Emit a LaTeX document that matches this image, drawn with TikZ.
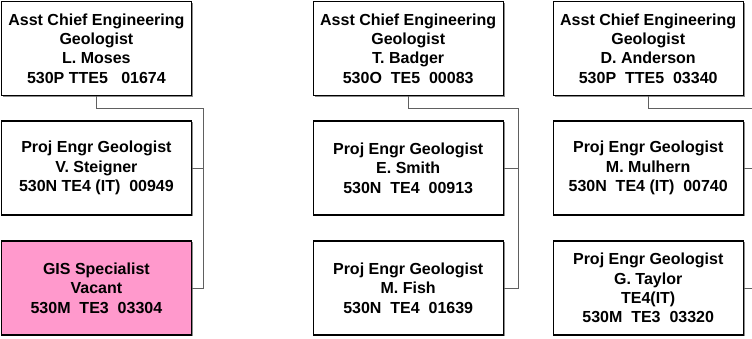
\documentclass[tikz,border=0pt]{standalone}
\usepackage{fontspec}
\setmainfont{Liberation Sans}
\usetikzlibrary{shadows}
\definecolor{pinkfill}{HTML}{FF99CC}
\definecolor{linegray}{HTML}{606060}
\tikzset{
  orgbox/.style={draw=black, line width=1.4pt, fill=white, align=center,
    minimum width=190pt, minimum height=94pt, anchor=north west, inner sep=0pt,
    font=\bfseries\fontsize{16}{19.4}\selectfont,
    drop shadow={shadow xshift=1.4pt, shadow yshift=-1.4pt, fill=black!45, opacity=1}},
  conn/.style={draw=linegray, line width=0.9pt}
}
\begin{document}
\begin{tikzpicture}[x=1pt,y=-1pt]
\useasboundingbox (0,0) rectangle (752,338);
% column 1
\node[orgbox] (a1) at (0.7,0.7) {Asst Chief Engineering\\Geologist\\L. Moses\\530P TTE5\ \ \ 01674};
\node[orgbox] (a2) at (0.7,120.3) {Proj Engr Geologist\\V. Steigner\\530N TE4 (IT)\ \ 00949};
\node[orgbox, fill=pinkfill] (a3) at (0.7,240.3) {GIS Specialist\\Vacant\\530M\ \ TE3\ \ 03304};
% column 2
\node[orgbox] (b1) at (312.5,0.7) {Asst Chief Engineering\\Geologist\\T. Badger\\530O\ \ TE5\ \ 00083};
\node[orgbox] (b2) at (312.5,120.3) {Proj Engr Geologist\\E. Smith\\530N\ \ TE4\ \ 00913};
\node[orgbox] (b3) at (312.5,240.3) {Proj Engr Geologist\\M. Fish\\530N\ \ TE4\ \ 01639};
% column 3
\node[orgbox] (c1) at (552.5,0.7) {Asst Chief Engineering\\Geologist\\D. Anderson\\530P\ \ TTE5\ \ 03340};
\node[orgbox] (c2) at (552.5,120.3) {Proj Engr Geologist\\M. Mulhern\\530N\ \ TE4 (IT)\ \ 00740};
\node[orgbox] (c3) at (552.5,240.3) {Proj Engr Geologist\\G. Taylor\\TE4(IT)\\530M\ \ TE3\ \ 03320};
% trunk coordinates
\coordinate (ta) at (203.5,108);
\coordinate (tb) at (518.5,108);
\coordinate (tc) at (756,108);
% connectors
\draw[conn] (a1.south) |- (ta) |- (a3.east);
\draw[conn] (a2.east) -- (a2.east -| ta);
\draw[conn] (b1.south) |- (tb) |- (b3.east);
\draw[conn] (b2.east) -- (b2.east -| tb);
\draw[conn] (c1.south) |- (tc) |- (c3.east);
\draw[conn] (c2.east) -- (c2.east -| tc);
\end{tikzpicture}
\end{document}
